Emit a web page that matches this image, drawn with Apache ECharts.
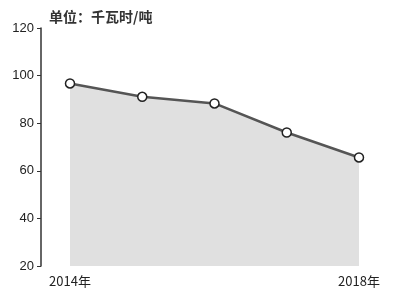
<!DOCTYPE html>
<html><head><meta charset="utf-8">
<script src="https://cdn.jsdelivr.net/npm/echarts@6/dist/echarts.min.js"></script>
<style>html,body{margin:0;padding:0;background:#fff}#c{width:400px;height:301px}</style>
</head><body><div id="c"></div>
<script>
var categories = ['2014年','2015年','2016年','2017年','2018年'];
var values = [96.7, 91.1, 88.3, 76.1, 65.6];
var yTicks = [20, 40, 60, 80, 100, 120];
var unitTitle = '单位：千瓦时/吨';

var chart = echarts.init(document.getElementById('c'), null, {renderer:'canvas'});
chart.setOption({
  animation:false,
  backgroundColor:'#fff',
  title:{text:unitTitle,left:44,top:5,textStyle:{fontFamily:'Noto Sans CJK SC',fontSize:14,fontWeight:'bold',color:'#333'}},
  grid:{left:70,right:41,top:28,bottom:35},
  xAxis:{type:'category',data:categories,boundaryGap:false,
    axisLine:{show:false},axisTick:{show:false},
    axisLabel:{interval:function(i){return i===0||i===categories.length-1;},
      fontFamily:'Noto Sans CJK SC',fontSize:13,color:'#222',margin:9}},
  yAxis:{type:'value',min:yTicks[0],max:yTicks[yTicks.length-1],interval:20,offset:29,
    axisLine:{show:true,lineStyle:{color:'#333',width:1.5}},
    axisTick:{show:true,length:4,lineStyle:{color:'#333'}},
    splitLine:{show:false},
    axisLabel:{fontFamily:'Liberation Sans',fontSize:13,color:'#222',margin:7}},
  series:[{type:'line',data:values,
    lineStyle:{color:'#555',width:2.5},
    areaStyle:{color:'#e0e0e0',opacity:1,origin:'start'},
    symbol:'circle',symbolSize:9,
    itemStyle:{color:'#fff',borderColor:'#222',borderWidth:1.5}}]
});
</script></body></html>
